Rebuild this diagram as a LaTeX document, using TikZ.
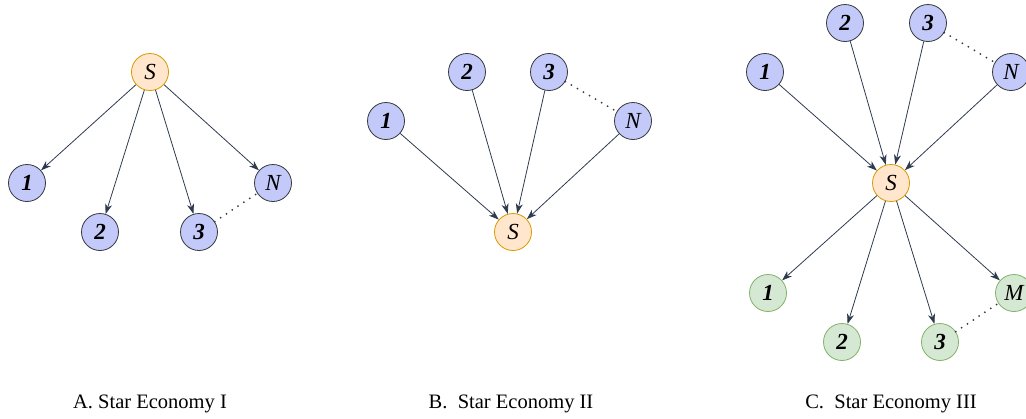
\documentclass[tikz,border=0pt]{standalone}
\usepackage{fontspec}
\setmainfont{Liberation Serif}
\usetikzlibrary{arrows.meta}
\definecolor{bfill}{HTML}{C3C9F8}
\definecolor{bdraw}{HTML}{36393D}
\definecolor{ofill}{HTML}{FFE6CC}
\definecolor{odraw}{HTML}{D79B00}
\definecolor{gfill}{HTML}{D5E8D4}
\definecolor{gdraw}{HTML}{82B366}
\definecolor{edge}{HTML}{2E3B4E}
\newcommand{\dg}[1]{\textbf{\textit{#1}}}
\tikzset{
  base/.style={circle, minimum size=37pt, inner sep=0pt, line width=0.8pt, font=\fontsize{23}{23}\selectfont\itshape},
  bnode/.style={base, draw=bdraw, fill=bfill},
  snode/.style={base, draw=odraw, fill=ofill},
  gnode/.style={base, draw=gdraw, fill=gfill},
  arr/.style={draw=edge, line width=0.8pt, -{Stealth[length=10pt,width=7pt,inset=3pt]}},
  dots/.style={draw=bdraw, line width=2pt, line cap=round, dash pattern=on 0pt off 7pt},
  captext/.style={font=\fontsize{20.5}{20.5}\selectfont}
}
\begin{document}
\begin{tikzpicture}[x=1pt,y=-1pt]
\useasboundingbox (0,0) rectangle (1026,418);
\begin{scope}
\clip (0,0) rectangle (1026,418);
% A
\node[snode] (aS) at (150,72) {S};
\node[bnode] (a1) at (27,183) {\dg{1}};
\node[bnode] (a2) at (100,232) {\dg{2}};
\node[bnode] (a3) at (199,232) {\dg{3}};
\node[bnode] (aN) at (273,183) {N};
\draw[arr] (aS) -- (a1);
\draw[arr] (aS) -- (a2);
\draw[arr] (aS) -- (a3);
\draw[arr] (aS) -- (aN);
\draw[dots] (a3) -- (aN);
% B
\node[bnode] (b1) at (386,121) {\dg{1}};
\node[bnode] (b2) at (467,72) {\dg{2}};
\node[bnode] (b3) at (549,72) {\dg{3}};
\node[bnode] (bN) at (633,121) {N};
\node[snode] (bS) at (513,232) {S};
\draw[arr] (b1) -- (bS);
\draw[arr] (b2) -- (bS);
\draw[arr] (b3) -- (bS);
\draw[arr] (bN) -- (bS);
\draw[dots] (b3) -- (bN);
% C
\node[bnode] (c1) at (765,72) {\dg{1}};
\node[bnode] (c2) at (845,23) {\dg{2}};
\node[bnode] (c3) at (928,23) {\dg{3}};
\node[bnode] (cN) at (1011,72) {N};
\node[snode] (cS) at (891,183) {S};
\node[gnode] (d1) at (768,293) {\dg{1}};
\node[gnode] (d2) at (842,342) {\dg{2}};
\node[gnode] (d3) at (940,342) {\dg{3}};
\node[gnode] (dM) at (1014,293) {M};
\draw[arr] (c1) -- (cS);
\draw[arr] (c2) -- (cS);
\draw[arr] (c3) -- (cS);
\draw[arr] (cN) -- (cS);
\draw[dots] (c3) -- (cN);
\draw[arr] (cS) -- (d1);
\draw[arr] (cS) -- (d2);
\draw[arr] (cS) -- (d3);
\draw[arr] (cS) -- (dM);
\draw[dots] (d3) -- (dM);
\end{scope}
% captions
\node[captext] (ca) at (150,404) {A. Star Economy I};
\node[captext] (cb) at (511,404) {B.\ \ Star Economy II};
\node[captext] (cc) at (891,404) {C.\ \ Star Economy III};
\end{tikzpicture}
\end{document}
